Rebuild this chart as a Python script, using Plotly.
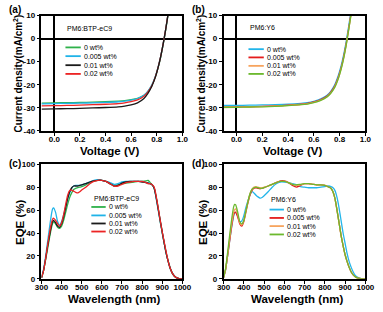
import plotly.graph_objects as go

# ---------------- J-V data ----------------
voltage = [-0.1, 0.0, 0.1, 0.2, 0.3, 0.4, 0.5, 0.55, 0.6, 0.65, 0.7, 0.73, 0.76, 0.79, 0.81, 0.83, 0.85, 0.87, 0.89, 0.9]

jv_a_names = ["0 wt%", "0.005 wt%", "0.01 wt%", "0.02 wt%"]
jv_a_colors = ["#2fb14a", "#1fb3e8", "#1a1a1a", "#ec2424"]
jv_a_0 = [-28.0, -27.9, -27.8, -27.7, -27.6, -27.4, -27.1, -26.9, -26.5, -25.9, -24.6, -23.0, -20.5, -16.5, -12.8, -8.2, -2.6, 3.8, 11.0, 14.5]
jv_a_0005 = [-28.3, -28.2, -28.1, -28.0, -27.9, -27.7, -27.4, -27.1, -26.7, -26.0, -24.6, -22.9, -20.3, -16.2, -12.5, -7.9, -2.3, 4.2, 11.5, 15.0]
jv_a_001 = [-30.6, -30.5, -30.4, -30.3, -30.1, -29.9, -29.6, -29.3, -28.8, -27.9, -26.0, -23.9, -20.9, -16.6, -12.7, -8.0, -2.4, 4.0, 11.2, 14.8]
jv_a_002 = [-29.2, -29.1, -29.0, -28.9, -28.7, -28.5, -28.2, -27.9, -27.4, -26.6, -25.0, -23.2, -20.6, -16.4, -12.6, -7.9, -2.3, 4.2, 11.5, 15.0]

jv_b_names = ["0 wt%", "0.005 wt%", "0.01 wt%", "0.02 wt%"]
jv_b_colors = ["#22b5ea", "#e41c1c", "#f7a45e", "#6cb92e"]
jv_b_0 = [-29.0, -29.0, -28.9, -28.8, -28.7, -28.5, -28.1, -27.8, -27.2, -26.3, -24.7, -23.0, -20.3, -16.0, -12.2, -7.4, -1.6, 5.2, 12.5, 16.0]
jv_b_0005 = [-29.8, -29.7, -29.6, -29.4, -29.2, -28.9, -28.5, -28.1, -27.5, -26.6, -25.0, -23.3, -20.8, -16.7, -13.0, -8.3, -2.6, 4.2, 11.5, 15.0]
jv_b_001 = [-29.9, -29.8, -29.7, -29.5, -29.3, -29.0, -28.6, -28.3, -27.7, -26.8, -25.3, -23.7, -21.2, -17.2, -13.5, -8.8, -3.0, 3.8, 11.0, 14.5]
jv_b_002 = [-29.8, -29.8, -29.7, -29.6, -29.4, -29.1, -28.7, -28.4, -27.8, -26.9, -25.4, -23.8, -21.4, -17.4, -13.7, -9.0, -3.2, 3.6, 10.8, 14.3]

# ---------------- EQE data ----------------
wavelength = [300, 310, 320, 330, 340, 350, 355, 360, 370, 380, 390, 400, 410, 420, 430, 440, 450, 460, 470, 480, 490, 500,
              520, 540, 560, 580, 600, 620, 640, 660, 680, 700, 720, 740, 760, 780, 800, 820, 830,
              840, 850, 860, 870, 880, 890, 900, 910, 920, 930, 940, 950, 960, 970, 980, 990, 1000]

eqe_c_names = ["0 wt%", "0.005 wt%", "0.01 wt%", "0.02 wt%"]
eqe_c_colors = ["#2fb14a", "#1fb3e8", "#1a1a1a", "#ec2424"]
eqe_c_0 = [1, 7, 16, 26, 36, 45, 48, 50, 48, 45, 44, 46, 51, 58, 65, 71, 75, 78, 79, 79.5, 80, 80.5,
           82, 84, 85.5, 86, 86, 85, 83.5, 82, 82, 83, 83.5, 84, 84.5, 85, 85, 85.5, 86,
           84, 82, 79, 71, 61, 50, 40, 31, 22, 15, 9, 5, 2.5, 1, 0.4, 0.1, 0]
eqe_c_0005 = [1, 8, 19, 32, 45, 57, 61, 62, 58, 50, 47, 50, 56, 63, 70, 75, 79, 81, 81.5, 81.5, 81.5, 82,
              83, 84.5, 86, 86.5, 86, 85, 84, 82.5, 83, 84.5, 85, 85, 85, 85, 85, 84, 84,
              83, 82, 79, 70, 60, 50, 40, 31, 22, 15, 9, 5, 2.5, 1, 0.4, 0.1, 0]
eqe_c_001 = [1, 7, 17, 28, 38, 47, 50, 51, 49, 46, 45, 48, 54, 62, 70, 76, 79.5, 81, 81, 81, 81.5, 82,
             83, 84.5, 85.5, 86, 86, 85, 83, 81, 81.5, 83.5, 84.5, 85, 85, 85, 84.5, 84, 83.5,
             83, 82, 79, 71, 61, 51, 41, 31, 22, 15, 9, 5, 2.5, 1, 0.4, 0.1, 0]
eqe_c_002 = [1, 7, 17, 29, 40, 49, 52, 53, 51, 48, 46, 49, 56, 65, 73, 77, 77.5, 76.5, 75.5, 75, 76, 77.5,
             80, 83, 85, 86, 86, 85, 83, 81, 81, 82.5, 84, 84.5, 85, 85, 85, 84, 83,
             83, 82, 80, 72, 62, 51, 41, 32, 23, 15, 9, 5, 2.5, 1, 0.4, 0.1, 0]

eqe_d_names = ["0 wt%", "0.005 wt%", "0.01 wt%", "0.02 wt%"]
eqe_d_colors = ["#22b5ea", "#e41c1c", "#f7a45e", "#6cb92e"]
eqe_d_0 = [1, 8, 20, 33, 45, 55, 57.5, 58, 55, 50, 50.5, 55, 62, 68, 73, 76, 75, 73, 71.5, 70.5, 71, 72.5,
           76, 80, 83, 84.5, 84.5, 84, 83, 82, 80.5, 80, 79.5, 79.5, 79.5, 80, 80.5, 81, 80.5,
           79.5, 77, 71, 62, 51, 40, 31, 22, 15, 10, 6, 3, 1.5, 0.6, 0.2, 0.1, 0]
eqe_d_0005 = [1, 8, 20, 33, 46, 56, 58, 58, 54, 48, 46, 50, 58, 66, 73, 77, 79, 79.5, 79, 78.5, 79, 79.5,
              81, 82.5, 84, 85.5, 85.5, 84, 81.5, 80, 81.5, 83, 83, 82.5, 82, 82, 81.5, 80, 79,
              76, 70, 60, 49, 38, 29, 21, 15, 10, 6, 3.5, 1.8, 0.8, 0.3, 0.1, 0, 0]
eqe_d_001 = [1, 8, 21, 35, 48, 58, 60.5, 61, 56, 49, 47, 51, 59, 67, 74, 78, 80, 80.5, 80, 79.5, 79.5, 80,
             81, 82.5, 84, 85, 85, 84, 82.5, 81.5, 82, 83, 83, 82.5, 82, 82, 81.5, 80, 79,
             76, 70, 60, 49, 38, 29, 21, 15, 10, 6, 3.5, 1.8, 0.8, 0.3, 0.1, 0, 0]
eqe_d_002 = [1, 9, 23, 38, 52, 63, 65, 64.5, 58, 50, 48, 51, 59, 67, 74, 78, 79.5, 80, 79.5, 79, 79, 79.5,
             81, 82.5, 84, 85, 85, 84, 82.5, 82, 82.5, 83, 83, 82.5, 82, 82, 81.5, 80, 79,
             76, 70, 60, 49, 38, 29, 21, 15, 10, 6, 3.5, 1.8, 0.8, 0.3, 0.1, 0, 0]

W, H = 383, 312
FONT = "Liberation Sans, Arial, sans-serif"

def px(x):
    return x / W

def py(y):
    return 1 - y / H

fig = go.Figure()

panels = [
    ("x", "y", voltage, [jv_a_0, jv_a_0005, jv_a_001, jv_a_002], jv_a_names, jv_a_colors),
    ("x2", "y2", voltage, [jv_b_0, jv_b_0005, jv_b_001, jv_b_002], jv_b_names, jv_b_colors),
    ("x3", "y3", wavelength, [eqe_c_0, eqe_c_0005, eqe_c_001, eqe_c_002], eqe_c_names, eqe_c_colors),
    ("x4", "y4", wavelength, [eqe_d_0, eqe_d_0005, eqe_d_001, eqe_d_002], eqe_d_names, eqe_d_colors),
]

draw_order = {0: [0, 1, 3, 2], 1: [0, 1, 2, 3], 2: [0, 1, 2, 3], 3: [0, 1, 2, 3]}
for i, (xa, ya, xs, series, names, colors) in enumerate(panels):
    for k in draw_order[i]:
        fig.add_trace(go.Scatter(x=xs, y=series[k], mode="lines", name=names[k],
                                 line=dict(color=colors[k], width=1.3, shape="spline", smoothing=0.6),
                                 xaxis=xa, yaxis=ya, showlegend=False))

tickfont = dict(family=FONT, size=8, color="black", weight="bold")
axis_common = dict(showline=True, linecolor="black", linewidth=1.6, mirror=True,
                   ticks="outside", ticklen=3, tickwidth=1.2, tickcolor="black",
                   showgrid=False, tickfont=tickfont)

dom_x_left = [px(36), px(183)]
dom_x_right = [px(226), px(374)]
dom_y_top = [py(130.5), py(12)]
dom_y_bot = [py(283), py(165)]

xstand = -3

fig.update_layout(
    width=W, height=H, margin=dict(l=0, r=0, t=0, b=0),
    paper_bgcolor="white", plot_bgcolor="white", showlegend=False,
    xaxis=dict(domain=dom_x_left, range=[-0.1, 1.0], tickvals=[0, 0.2, 0.4, 0.6, 0.8, 1.0],
               ticktext=["0.0", "0.2", "0.4", "0.6", "0.8", "1.0"], anchor="y", ticklabelstandoff=xstand,
               zeroline=True, zerolinecolor="black", zerolinewidth=1.5, **axis_common),
    yaxis=dict(domain=dom_y_top, range=[-40, 10], tickvals=[-40, -30, -20, -10, 0, 10],
               ticktext=["-40", "-30", "-20", "-10", "0", "10"], anchor="x",
               zeroline=True, zerolinecolor="black", zerolinewidth=1.5, **axis_common),
    xaxis2=dict(domain=dom_x_right, range=[-0.1, 1.0], tickvals=[0, 0.2, 0.4, 0.6, 0.8, 1.0],
                ticktext=["0.0", "0.2", "0.4", "0.6", "0.8", "1.0"], anchor="y2", ticklabelstandoff=xstand,
                zeroline=True, zerolinecolor="black", zerolinewidth=1.5, **axis_common),
    yaxis2=dict(domain=dom_y_top, range=[-40, 10], tickvals=[-40, -30, -20, -10, 0, 10],
                ticktext=["-40", "-30", "-20", "-10", "0", "10"], anchor="x2",
                zeroline=True, zerolinecolor="black", zerolinewidth=1.5, **axis_common),
    xaxis3=dict(domain=dom_x_left, range=[300, 1000], tickvals=[300, 400, 500, 600, 700, 800, 900, 1000],
                anchor="y3", zeroline=False, ticklabelstandoff=xstand, **axis_common),
    yaxis3=dict(domain=dom_y_bot, range=[0, 100], tickvals=[0, 20, 40, 60, 80, 100],
                anchor="x3", zeroline=False, **axis_common),
    xaxis4=dict(domain=dom_x_right, range=[300, 1000], tickvals=[300, 400, 500, 600, 700, 800, 900, 1000],
                anchor="y4", zeroline=False, ticklabelstandoff=xstand, **axis_common),
    yaxis4=dict(domain=dom_y_bot, range=[0, 100], tickvals=[0, 20, 40, 60, 80, 100],
                anchor="x4", zeroline=False, **axis_common),
)

ann = []
shapes = []

def text(x, y, s, size, anchor="center", angle=0, bold=True):
    ann.append(dict(x=px(x), y=py(y), xref="paper", yref="paper", text=s, showarrow=False,
                    xanchor=anchor, yanchor="middle", textangle=angle,
                    font=dict(family=FONT, size=size, color="black", weight="bold" if bold else "normal")))

# panel labels
text(0, 6, "(a)", 10, "left")
text(191, 6, "(b)", 10, "left")
text(0, 164, "(c)", 10, "left")
text(191, 164, "(d)", 10, "left")

# axis titles
text(11, 72, "Current density(mA/cm<sup>2</sup>)", 10, angle=-90)
text(202, 72, "Current density(mA/cm<sup>2</sup>)", 10, angle=-90)
text(107, 151, "Voltage (V)", 11.5)
text(298, 151, "Voltage (V)", 11.5)
text(13, 224, "EQE (%)", 11.5, angle=-90)
text(204, 224, "EQE (%)", 11.5, angle=-90)
text(112, 304, "Wavelength (nm)", 11.5)
text(303, 304, "Wavelength (nm)", 11.5)

# in-plot titles
text(61, 25, "PM6:BTP-eC9", 7, "left", bold=False)
text(252, 24, "PM6:Y6", 7, "left", bold=False)
text(89, 200, "PM6:BTP-eC9", 7, "left", bold=False)
text(273, 201, "PM6:Y6", 7, "left", bold=False)

# legends (drawn from series names/colours)
legends = [
    (jv_a_names, jv_a_colors, 61, 77, [44.7, 53.7, 63, 72]),
    (jv_b_names, jv_b_colors, 252, 268, [46.5, 55, 63.7, 72]),
    (eqe_c_names, eqe_c_colors, 88, 103, [209, 217.7, 226, 234.3]),
    (eqe_d_names, eqe_d_colors, 274, 289, [211.7, 220.3, 228.7, 237.3]),
]
for names, colors, x0, x1, ys in legends:
    for nm, col, yy in zip(names, colors, ys):
        shapes.append(dict(type="line", xref="paper", yref="paper", x0=px(x0), x1=px(x1),
                           y0=py(yy), y1=py(yy), line=dict(color=col, width=1.8)))
        text(x1 + 1.5, yy, nm, 7, "left", bold=False)

fig.update_layout(annotations=ann, shapes=shapes)
fig.write_html("out.html", config={"displayModeBar": False},
               post_script="document.body.style.margin='0';document.body.style.padding='0';")
